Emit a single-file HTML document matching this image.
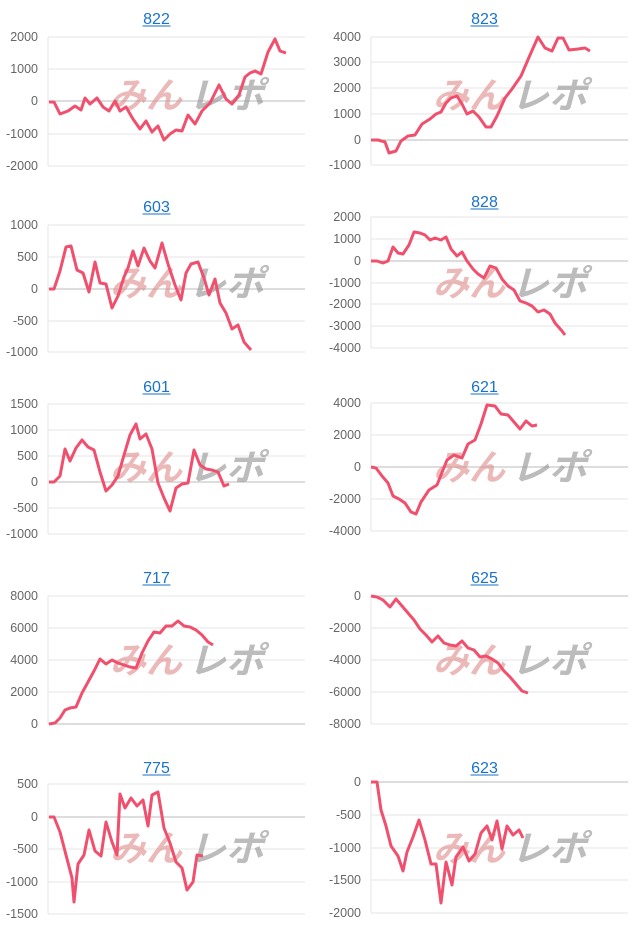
<!DOCTYPE html>
<html><head><meta charset="utf-8"><style>
body{margin:0;background:#fff;width:640px;height:931px;overflow:hidden}
svg{display:block}
</style></head><body>
<svg id="s" width="640" height="931" xmlns="http://www.w3.org/2000/svg" font-family="Liberation Sans, sans-serif"></svg>
<script>
const C=[
{t:"822",ty:18,x0:48,x1:305,g:[[37,"2000"],[69,"1000"],[101,"0"],[134,"-1000"],[166,"-2000"]],z:101,wy:95,
p:"49,102 54,102 60,114 68,111 75,106 81,110 85,98 90,104 97,98 103,107 109,111 115,101 120,111 126,107 133,119 140,129 146,121 152,132 158,126 164,140 170,134 176,130 182,131 188,115 195,124 202,111 210,103 219,85 226,99 232,104 239,95 245,77 250,73 255,71 261,74 268,52 275,39 280,51 286,53"},
{t:"823",ty:18,x0:371,x1:628,g:[[37,"4000"],[62,"3000"],[88,"2000"],[114,"1000"],[140,"0"],[165,"-1000"]],z:140,wy:95,
p:"371,140 378,140 385,142 389,153 396,151 401,141 408,136 415,135 422,124 430,119 436,114 441,112 446,103 451,98 457,96 462,104 467,114 473,111 479,117 486,127 491,127 497,116 505,98 512,89 521,76 530,55 538,37 545,48 552,51 558,38 563,38 569,50 578,49 585,48 590,51"},
{t:"603",ty:206,x0:48,x1:305,g:[[225,"1000"],[257,"500"],[289,"0"],[321,"-500"],[352,"-1000"]],z:289,wy:283,
p:"49,289 54,289 60,271 66,247 71,246 77,270 83,273 89,292 95,262 100,283 106,284 112,308 118,296 124,277 128,268 133,251 138,266 144,248 150,261 155,268 162,243 168,264 175,285 181,300 186,273 191,264 198,262 204,278 209,295 215,279 220,303 226,313 232,329 238,325 244,342 251,350"},
{t:"828",ty:201,x0:371,x1:628,g:[[217,"2000"],[239,"1000"],[261,"0"],[283,"-1000"],[304,"-2000"],[326,"-3000"],[348,"-4000"]],z:261,wy:283,
p:"371,261 377,261 383,263 388,261 393,247 398,253 403,254 409,245 414,232 420,233 425,235 430,240 435,238 441,240 446,237 451,249 457,256 462,252 467,261 473,269 478,274 484,278 490,266 496,268 502,279 508,286 514,290 520,301 526,303 532,306 538,312 544,310 550,314 555,323 562,331 565,335"},
{t:"601",ty:386,x0:48,x1:305,g:[[404,"1500"],[430,"1000"],[456,"500"],[482,"0"],[508,"-500"],[534,"-1000"]],z:482,wy:467,
p:"49,482 54,482 60,476 65,449 70,461 76,448 82,440 88,447 94,450 100,472 106,491 112,485 118,476 124,455 130,435 136,424 140,439 146,434 152,449 158,483 164,498 170,511 176,488 182,484 188,483 194,450 200,465 206,469 212,470 218,472 224,486 229,484"},
{t:"621",ty:386,x0:371,x1:628,g:[[403,"4000"],[435,"2000"],[467,"0"],[499,"-2000"],[531,"-4000"]],z:467,wy:467,
p:"371,467 376,468 382,476 388,483 393,496 399,499 405,503 411,512 416,514 421,502 429,490 437,485 441,475 447,460 454,455 462,458 468,444 475,440 481,424 487,405 495,406 501,414 508,415 514,422 520,429 526,421 532,426 537,425"},
{t:"717",ty:577,x0:48,x1:305,g:[[596,"8000"],[628,"6000"],[660,"4000"],[692,"2000"],[724,"0"]],z:724,wy:660,
p:"49,724 55,723 60,718 65,710 70,708 76,707 82,693 88,682 94,671 100,659 106,664 112,660 118,663 124,665 130,667 136,668 142,653 148,641 154,632 160,633 166,626 172,626 178,621 184,626 190,627 196,630 202,635 208,642 213,645"},
{t:"625",ty:577,x0:371,x1:628,g:[[596,"0"],[628,"-2000"],[660,"-4000"],[692,"-6000"],[724,"-8000"]],z:596,wy:660,
p:"371,596 377,597 383,600 390,607 396,599 402,606 408,613 414,620 420,629 426,635 432,642 438,636 444,643 450,645 456,646 462,641 468,648 474,650 480,657 486,656 492,659 498,663 504,671 510,677 516,684 522,691 528,693"},
{t:"775",ty:767,x0:48,x1:305,g:[[784,"500"],[817,"0"],[849,"-500"],[882,"-1000"],[914,"-1500"]],z:817,wy:848,
p:"49,817 54,817 60,832 66,855 72,878 74,902 78,864 84,855 89,830 95,851 101,856 106,822 112,842 117,855 120,794 125,808 131,798 137,806 143,800 148,826 152,795 158,792 164,828 170,843 176,862 182,868 187,890 193,882 197,855 203,856"},
{t:"623",ty:767,x0:371,x1:628,g:[[782,"0"],[815,"-500"],[848,"-1000"],[880,"-1500"],[913,"-2000"]],z:782,wy:848,
p:"371,782 377,782 381,810 386,826 391,846 398,856 403,871 407,852 413,837 419,820 425,840 431,864 436,864 441,903 446,862 452,885 456,857 463,847 469,861 475,854 481,833 487,826 492,840 497,821 502,849 507,826 513,835 519,830 523,838"}
];
let h="";
for(const c of C){
 const cx=(c.x0+c.x1)/2+ (c.x0<100?-20:-15);
 h+=`<text x="${cx}" y="${c.ty+6}" text-anchor="middle" font-size="16" fill="#1a73c8">${c.t}</text>`;
 h+=`<line x1="${cx-14}" x2="${cx+14}" y1="${c.ty+8}" y2="${c.ty+8}" stroke="#1a73c8" stroke-width="1"/>`;
 for(const [y,l] of c.g){
  h+=`<line x1="${c.x0}" x2="${c.x1}" y1="${y}" y2="${y}" stroke="${y==c.z?'#bbb':'#e6e6e6'}" stroke-width="1"/>`;
  h+=`<text x="${c.x0-10}" y="${y+4}" text-anchor="end" font-size="12.5" fill="#666">${l}</text>`;
 }
 const yb=c.g[c.g.length-1][0];
 h+=`<line x1="${c.x0}" x2="${c.x0}" y1="${c.g[0][0]}" y2="${yb}" stroke="#e6e6e6"/>`;
 const wx=c.x0+62;
 h+=`<text x="${wx}" y="${c.wy+13}" font-size="36" font-weight="bold" font-style="italic" font-family="Noto Sans CJK JP, sans-serif" fill="#e08c8c" opacity="0.6" textLength="72" lengthAdjust="spacingAndGlyphs">みん</text>`;
 h+=`<text x="${wx+78}" y="${c.wy+13}" font-size="36" font-weight="bold" font-style="italic" font-family="Noto Sans CJK JP, sans-serif" fill="#999" opacity="0.65" textLength="76" lengthAdjust="spacingAndGlyphs">レポ</text>`;
 h+=`<polyline points="${c.p}" fill="none" stroke="#f0506e" stroke-width="3" stroke-linejoin="round"/>`;
}
document.getElementById("s").innerHTML=h;
</script>
</body></html>
